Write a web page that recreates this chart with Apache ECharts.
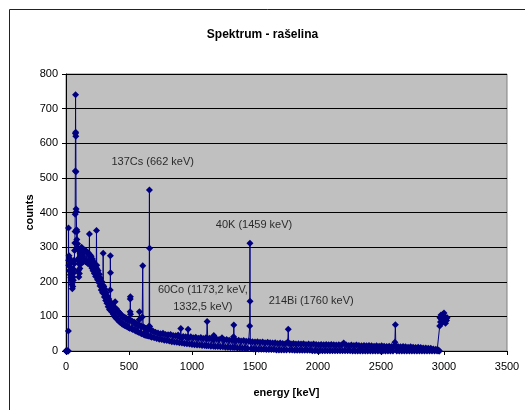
<!DOCTYPE html>
<html>
<head>
<meta charset="utf-8">
<script src="https://cdn.jsdelivr.net/npm/echarts@6/dist/echarts.min.js"></script>
<style>
  html, body { margin: 0; padding: 0; background: #fff; }
  #chart { width: 525px; height: 410px; }
</style>
</head>
<body>
<div id="chart"></div>
<script>
// spectrum, [energy keV, counts]
var lowRegion = [
  [0,0],[1,0],[2,1],[3,0],[4,0],[6,0],[8,1],[12,0],[16,0],[18,0],[19,58],[20,355],[21,262],
  [22,248],[24,275],[26,232],[28,268],[30,244],[32,262],[34,220],[36,255],[38,212],[40,240],
  [42,204],[44,226],[46,192],[48,210],[50,180],[52,198],[54,186],[56,214],[58,204],[60,236],
  [62,226],[64,262],[66,252],[68,290],[70,312],[72,345],[73,395],[74,520],[75,628],[76,740],
  [77,632],[78,620],[79,518],[80,410],[82,402],[84,350],[86,322],[88,345],[90,300],[92,310],
  [94,262],[96,292],[98,232],[100,268],[102,214],[104,252],[106,224],[108,270],[110,238],
  [112,282],[114,250],[116,290],[118,258],[120,296],[122,268],[124,300],[126,270],[128,296],
  [130,272],[132,292],[134,262],[136,290],[138,258],[140,286]
];
var midRegion = [
  [145,262],[150,292],[155,258],[160,288],[165,256],[170,285],[175,252],[180,282],[184,262],
  [186,338],[188,258],[190,278],[195,248],[200,274],[205,240],[210,266],[215,232],[220,258],
  [225,224],[230,250],[235,215],[240,240],[242,348],[244,248],[246,236],[250,206],[255,232],
  [260,198],[265,222],[270,188],[275,210],[280,176],[285,200],[290,168],[294,190],[295,282],
  [296,172],[300,186],[305,156],[310,178],[315,146],[320,168],[325,138],[330,158],[335,128],
  [340,150],[345,120],[350,142],[351,176],[352,275],[353,226],[355,118],[360,138],[365,112],
  [370,132],[375,106],[380,126],[385,100],[390,142],[395,96],[400,122],[405,92],[410,116],
  [415,88],[420,112],[425,84],[430,108],[435,82],[440,104],[445,78],[450,100],[455,76],
  [460,98],[465,74],[470,96],[475,72],[480,94],[485,70],[490,92],[495,68],[500,90],[505,66],
  [509,113],[510,150],[511,157],[512,106],[515,88],[520,64],[525,86],[530,62],[540,84],
  [545,60],[550,80],[555,58],[560,78],[565,56],[570,76],[575,54],[580,90],[583,113],[586,74],
  [590,52],[595,72],[600,50],[605,98],[609,246],[612,70],[615,48],[620,68],[625,46],[630,66],
  [635,45],[640,64],[645,44],[650,62],[655,43],[660,72],[662,465],[663,297],[664,70],[668,42],
  [675,60],[680,40],[690,58],[700,38]
];
var highRegion = [
  [710,54],[720,36],[730,52],[740,34],[750,50],[760,33],[770,51],[780,31],[790,48],[800,30],
  [810,47],[820,29],[830,48],[840,27],[850,45],[860,26],[870,44],[880,25],[890,46],[900,24],
  [905,40],[911,65],[915,38],[920,23],[930,42],[940,22],[950,41],[960,21],[965,40],[969,63],
  [973,38],[980,20],[990,41],[1000,19],[1010,38],[1020,18],[1030,40],[1040,17],[1050,37],
  [1060,17],[1070,39],[1080,16],[1090,36],[1100,16],[1110,38],[1115,15],[1120,85],[1125,36],
  [1130,15],[1140,37],[1150,14],[1160,35],[1170,14],[1173,45],[1176,34],[1185,13],[1195,35],
  [1205,13],[1215,33],[1225,12],[1238,38],[1245,12],[1255,32],[1265,11],[1275,33],[1285,11],
  [1295,31],[1305,10],[1315,32],[1325,10],[1330,41],[1332,75],[1334,30],[1340,10],[1350,30],
  [1360,9],[1370,31],[1380,9],[1390,29],[1400,8],[1410,30],[1420,8],[1430,28],[1440,7],
  [1450,29],[1458,72],[1460,311],[1461,144],[1463,27],[1470,7],[1480,27],[1490,6],[1500,26],
  [1510,6],[1520,27],[1530,5],[1540,25],[1550,5],[1560,26],[1570,5],[1580,24],[1590,4],
  [1600,25],[1610,4],[1620,24],[1630,4],[1640,23],[1650,4],[1660,24],[1670,3],[1680,22],
  [1690,3],[1700,23],[1710,3],[1720,22],[1730,3],[1740,21],[1750,3],[1760,26],[1764,63],
  [1768,22],[1775,3],[1785,21],[1795,3],[1805,22],[1815,2],[1825,20],[1835,2],[1845,21],
  [1855,2],[1865,20],[1875,2],[1885,21],[1895,2],[1905,19],[1915,2],[1925,20],[1935,2],
  [1945,19],[1955,1],[1965,20],[1975,1],[1985,19],[1995,1],[2005,18],[2015,1],[2025,19],
  [2035,1],[2045,18],[2055,1],[2065,19],[2075,1],[2085,18],[2095,1],[2105,19],[2115,1],
  [2125,18],[2135,1],[2145,17],[2155,1],[2165,18],[2175,1],[2185,17],[2195,1],[2204,23],
  [2215,1],[2225,17],[2235,1],[2245,16],[2255,1],[2265,17],[2275,0],[2285,16],[2295,0],
  [2305,17],[2315,0],[2325,16],[2335,0],[2345,15],[2355,0],[2365,16],[2375,0],[2385,15],
  [2395,0],[2405,16],[2415,0],[2425,15],[2435,0],[2445,14],[2455,0],[2465,15],[2475,0],
  [2485,14],[2495,0],[2505,15],[2515,0],[2525,14],[2535,0],[2545,13],[2555,0],[2565,14],
  [2575,0],[2585,13],[2595,0],[2605,14],[2610,25],[2614,76],[2618,14],[2625,0],[2635,13],
  [2645,0],[2655,12],[2665,0],[2675,13],[2685,0],[2695,12],[2705,0],[2715,11],[2725,0],
  [2735,12],[2745,0],[2755,11],[2765,0],[2775,10],[2785,0],[2795,11],[2805,0],[2815,10],
  [2825,0],[2835,9],[2845,0],[2855,9],[2865,0],[2875,8],[2885,0],[2895,8],[2905,0],[2915,6],
  [2925,0],[2935,5],[2945,0],[2955,3],[2960,0]
];
var sumRegion = [
  [2964,0],[2966,72],[2968,96],[2972,84],[2976,104],[2980,90],[2984,100],[2988,82],[2992,106],
  [2996,92],[3000,110],[3004,86],[3008,98],[3012,80],[3016,94],[3020,88],[3025,96]
];

var yTicks = [0, 100, 200, 300, 400, 500, 600, 700, 800];
var xTicks = [0, 500, 1000, 1500, 2000, 2500, 3000, 3500];

// peak labels, placed in data units
var peakNotes = [
  { text: '137Cs (662 keV)', at: [688, 546] },
  { text: '40K (1459 keV)', at: [1492, 364] },
  { text: '60Co (1173,2 keV,\n1332,5 keV)', at: [1086, 153] },
  { text: '214Bi (1760 keV)', at: [1946, 144] }
];

var spectrum = lowRegion.concat(midRegion, highRegion, sumRegion);
var font = 'Liberation Sans, Arial, sans-serif';

var chart = echarts.init(document.getElementById('chart'));
chart.setOption({
  animation: false,
  backgroundColor: '#fff',
  title: {
    text: 'Spektrum - rašelina',
    left: 'center',
    top: 24,
    textStyle: { fontFamily: font, fontSize: 12, fontWeight: 'bold', color: '#000' }
  },
  graphic: [{
    type: 'rect',
    shape: { x: 9.5, y: 9.5, width: 600, height: 600 },
    style: { fill: 'none', stroke: '#222', lineWidth: 1 },
    z: -10
  }],
  grid: {
    left: 66, top: 74, width: 441, height: 277,
    show: true, backgroundColor: '#c0c0c0', borderColor: '#808080', borderWidth: 1
  },
  xAxis: {
    type: 'value',
    min: xTicks[0], max: xTicks[xTicks.length - 1], interval: 500,
    name: 'energy [keV]', nameLocation: 'middle', nameGap: 36,
    nameMoveOverlap: false,
    nameTextStyle: { fontFamily: font, fontSize: 11, fontWeight: 'bold', color: '#000' },
    axisLine: { lineStyle: { color: '#000', width: 1 } },
    axisTick: { show: true, length: 4, lineStyle: { color: '#000' } },
    axisLabel: {
      fontFamily: font, fontSize: 11, color: '#000', margin: 10,
      formatter: function (v) { return String(v); }
    },
    splitLine: { show: false }
  },
  yAxis: {
    type: 'value',
    min: yTicks[0], max: yTicks[yTicks.length - 1], interval: 100,
    name: 'counts', nameLocation: 'middle', nameGap: 31,
    nameMoveOverlap: false,
    nameTextStyle: { fontFamily: font, fontSize: 11, fontWeight: 'bold', color: '#000' },
    axisLine: { show: true, lineStyle: { color: '#000', width: 1 } },
    axisTick: { show: true, length: 4, lineStyle: { color: '#000' } },
    axisLabel: { fontFamily: font, fontSize: 11, color: '#000', margin: 8 },
    splitLine: { show: true, lineStyle: { color: '#000', width: 1 } }
  },
  series: [{
    type: 'line',
    data: spectrum,
    symbol: 'diamond',
    symbolSize: 7,
    showAllSymbol: true,
    color: '#000080',
    lineStyle: { color: '#000080', width: 1 },
    itemStyle: { color: '#000080' },
    z: 3
  }, {
    type: 'scatter',
    data: peakNotes.map(function (n) { return { value: n.at, name: n.text }; }),
    symbolSize: 0,
    silent: true,
    label: {
      show: true, position: 'inside', formatter: '{b}',
      fontFamily: font, fontSize: 11, color: '#000', lineHeight: 17
    },
    z: 4
  }]
});
</script>
</body>
</html>
